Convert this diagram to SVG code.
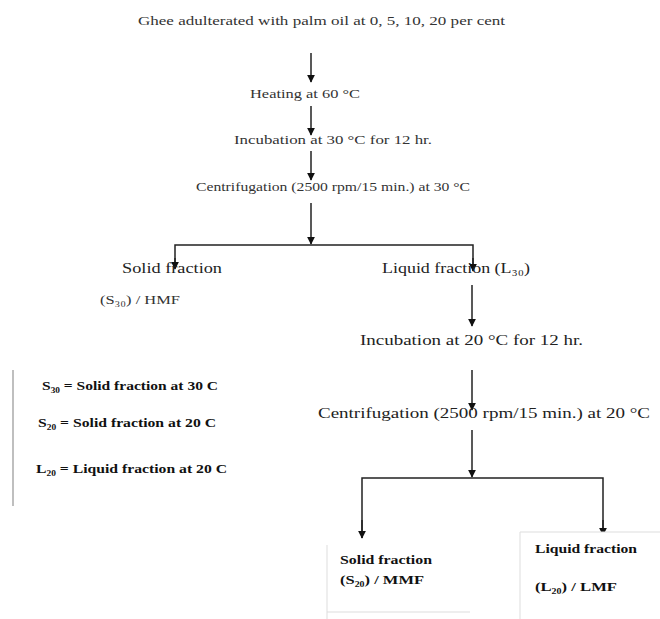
<svg xmlns="http://www.w3.org/2000/svg" width="660" height="619" viewBox="0 0 660 619">
<defs>
<marker id="ah" viewBox="0 0 10 10" refX="9" refY="5" markerWidth="8" markerHeight="8" markerUnits="userSpaceOnUse" orient="auto">
<path d="M0,0 L10,5 L0,10 z" fill="#111"/>
</marker>
<style>
.t{font-family:"Liberation Serif","Times New Roman",serif;fill:#333;font-size:13px}
.m{font-family:"Liberation Serif","Times New Roman",serif;fill:#222;font-size:15px}
.b{font-family:"Liberation Serif","Times New Roman",serif;fill:#111;font-size:13px;font-weight:bold}
.c{stroke:#222;stroke-width:1.5;fill:none}
.ca{stroke:#222;stroke-width:1.5;fill:none;marker-end:url(#ah)}
.box{fill:#fff;stroke:#ddd;stroke-width:1}
</style>
</defs>
<rect width="660" height="619" fill="#fff"/>
<g id="connectors">
<line class="ca" x1="311" y1="53" x2="311" y2="82"/>
<line class="ca" x1="311" y1="106" x2="311" y2="135"/>
<line class="ca" x1="311" y1="151" x2="311" y2="180"/>
<line class="ca" x1="311" y1="203" x2="311" y2="244"/>
<polyline class="c" points="175,268 175,245 473,245 473,268"/>
<line class="ca" x1="175" y1="258" x2="175" y2="269"/>
<line class="ca" x1="473" y1="258" x2="473" y2="271"/>
<line class="ca" x1="472" y1="285" x2="472" y2="326"/>
<line class="ca" x1="472" y1="370" x2="472" y2="410"/>
<line class="ca" x1="472" y1="430" x2="472" y2="477"/>
<polyline class="c" points="362,538 362,478 603,478 603,534"/>
<line class="ca" x1="362" y1="520" x2="362" y2="538"/>
<line class="ca" x1="603" y1="520" x2="603" y2="535"/>
</g>
<g id="n-ghee"><text class="t" x="138" y="25" textLength="367" lengthAdjust="spacingAndGlyphs">Ghee adulterated with palm oil at 0, 5, 10, 20 per cent</text></g>
<g id="n-heating"><text class="t" x="250" y="98" textLength="110" lengthAdjust="spacingAndGlyphs">Heating at 60 °C</text></g>
<g id="n-incub30"><text class="t" x="234" y="144" textLength="198" lengthAdjust="spacingAndGlyphs">Incubation at 30 °C for 12 hr.</text></g>
<g id="n-centr30"><text class="t" x="196" y="191" textLength="274" lengthAdjust="spacingAndGlyphs">Centrifugation (2500 rpm/15 min.) at 30 °C</text></g>
<g id="n-solid30">
<text class="m" x="122" y="273" textLength="100" lengthAdjust="spacingAndGlyphs">Solid fraction</text>
<text class="t" x="100" y="304" textLength="80" lengthAdjust="spacingAndGlyphs">(S₃₀) / HMF</text>
</g>
<g id="n-liquid30"><text class="m" x="382" y="273" textLength="148" lengthAdjust="spacingAndGlyphs">Liquid fraction (L₃₀)</text></g>
<g id="n-incub20"><text class="m" x="360" y="345" textLength="223" lengthAdjust="spacingAndGlyphs">Incubation at 20 °C for 12 hr.</text></g>
<g id="n-centr20"><text class="m" x="318" y="418" textLength="332" lengthAdjust="spacingAndGlyphs">Centrifugation (2500 rpm/15 min.) at 20 °C</text></g>
<g id="legend">
<line x1="13" y1="370" x2="13" y2="506" stroke="#aaa" stroke-width="1.5"/>
<text class="b" x="42" y="390" textLength="176" lengthAdjust="spacingAndGlyphs">S₃₀ = Solid fraction at 30 C</text>
<text class="b" x="38" y="427" textLength="178" lengthAdjust="spacingAndGlyphs">S₂₀ = Solid fraction at 20 C</text>
<text class="b" x="36" y="473" textLength="191" lengthAdjust="spacingAndGlyphs">L₂₀ = Liquid fraction at 20 C</text>
</g>
<g id="n-solid20">
<path class="box" d="M327,619 L327,545 M327,612 L470,612"/>
<text class="b" x="340" y="564" textLength="92" lengthAdjust="spacingAndGlyphs">Solid fraction</text>
<text class="b" x="340" y="584" textLength="84" lengthAdjust="spacingAndGlyphs">(S₂₀) / MMF</text>
</g>
<g id="n-liquid20">
<path class="box" d="M520,619 L520,532 L660,532"/>
<text class="b" x="535" y="553" textLength="102" lengthAdjust="spacingAndGlyphs">Liquid fraction</text>
<text class="b" x="535" y="591" textLength="82" lengthAdjust="spacingAndGlyphs">(L₂₀) / LMF</text>
</g>
</svg>
